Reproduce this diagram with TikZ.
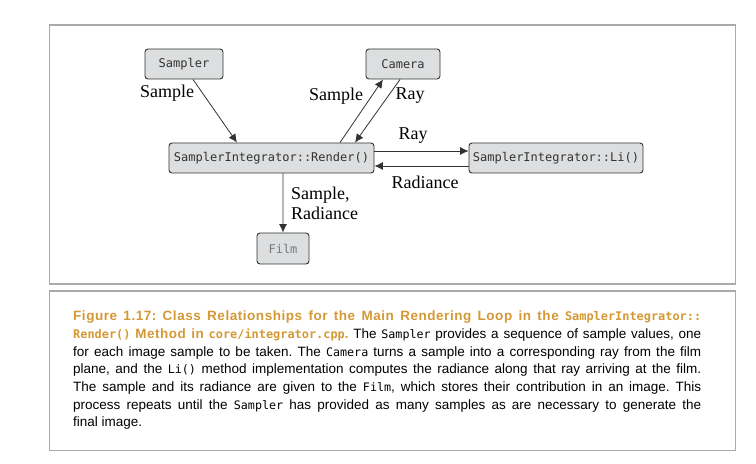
\documentclass[tikz,border=0pt]{standalone}
\usepackage{fontspec}
\setmainfont{Liberation Serif}
\newfontfamily\capfont{Liberation Sans}
\newfontfamily\headfont[LetterSpace=4]{Liberation Sans}
\newfontfamily\monofont{DejaVu Sans Mono}
\usetikzlibrary{arrows.meta,calc}
\definecolor{boxfill}{RGB}{221,222,223}
\definecolor{boxline}{RGB}{50,50,50}
\definecolor{framegray}{RGB}{170,170,170}
\definecolor{caporange}{RGB}{212,152,52}
\definecolor{filmtext}{RGB}{120,120,120}
\newcommand{\cm}[1]{{\monofont\fontsize{11.7bp}{14bp}\selectfont #1}}
\newcommand{\cmb}[1]{{\monofont\bfseries\fontsize{11.9bp}{14bp}\selectfont #1}}
\begin{document}
\begin{tikzpicture}[x=1bp,y=-1bp,
  cls/.style={draw=boxline,fill=boxfill,line width=0.9bp,rounded corners=3bp,
    inner sep=0pt,text=boxline,font=\monofont\fontsize{12bp}{14bp}\selectfont},
  conn/.style={draw=boxline,line width=0.8bp,-{Latex[length=8.5bp,width=8bp]}},
  lbl/.style={inner sep=0pt,font=\fontsize{18bp}{20bp}\selectfont,text=black},
  frame/.style={draw=framegray,line width=1.5bp},
  capline/.style={anchor=base west,inner sep=0pt,font=\capfont\frenchspacing\fontsize{13.5bp}{16bp}\selectfont}]
\useasboundingbox (0,0) rectangle (756,464);
\draw[frame] (49.5,25) rectangle (735.5,284);
\draw[frame] (49.5,291) rectangle (735.5,450.5);

\node[cls,minimum width=78bp,minimum height=30bp] (smp) at (184,64) {Sampler};
\node[cls,minimum width=74bp,minimum height=30bp] (cam) at (403,64) {Camera};
\node[cls,minimum width=205bp,minimum height=30bp] (ren) at (271.5,158) {SamplerIntegrator::Render()};
\node[cls,minimum width=174bp,minimum height=30bp] (li) at (556,158) {SamplerIntegrator::Li()};
\node[cls,minimum width=52bp,minimum height=31bp,text=filmtext] (film) at (283,248.5) {Film};

\draw[conn] ($(smp.south)+(9,0)$) -- ($(ren.north)+(-34.5,0)$);
\draw[conn] ($(ren.north)+(68.5,0)$) -- ($(cam.south)+(-20,0)$);
\draw[conn] ($(cam.south)+(-3,0)$) -- ($(ren.north)+(83.5,0)$);
\draw[conn] ($(ren.east)+(0,-7)$) -- ($(li.west)+(0,-7)$);
\draw[conn] ($(li.west)+(0,8)$) -- ($(ren.east)+(0,8)$);
\draw[conn] ($(ren.south)+(11.5,0)$) -- (film.north);

\node[lbl] (l1) at (167,93) {Sample};
\node[lbl] (l2) at (336,96) {Sample};
\node[lbl] (l3) at (410,96) {Ray};
\node[lbl] (l4) at (413,136) {Ray};
\node[lbl] (l5) at (425,182) {Radiance};
\node[lbl,anchor=west,align=left] (l6) at (291,203) {Sample,\\Radiance};

\node[capline] (c1) at (73,321) {\hbox to 628bp{\color{caporange}\headfont\bfseries Figure 1.17: Class Relationships for the Main Rendering Loop in the \cmb{SamplerIntegrator::}}};
\node[capline] (c2) at (73,339) {\hbox to 628bp{{\color{caporange}\cmb{Render()} {\headfont\bfseries Method in} \cmb{core/integrator.cpp}{\headfont\bfseries .}} The \cm{Sampler} provides a sequence of sample values, one}};
\node[capline] (c3) at (73,356.5) {\hbox to 628bp{for each image sample to be taken. The \cm{Camera} turns a sample into a corresponding ray from the film}};
\node[capline] (c4) at (73,374) {\hbox to 628bp{plane, and the \cm{Li()} method implementation computes the radiance along that ray arriving at the film.}};
\node[capline] (c5) at (73,391.5) {\hbox to 628bp{The sample and its radiance are given to the \cm{Film}, which stores their contribution in an image. This}};
\node[capline] (c6) at (73,409) {\hbox to 628bp{process repeats until the \cm{Sampler} has provided as many samples as are necessary to generate the}};
\node[capline] (c7) at (73,426.5) {final image.};
\end{tikzpicture}
\end{document}
